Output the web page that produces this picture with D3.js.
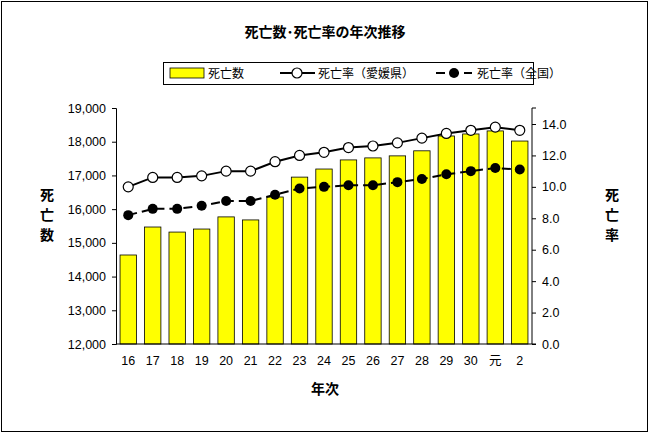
<!DOCTYPE html>
<html><head><meta charset="utf-8">
<script src="https://cdn.jsdelivr.net/npm/d3@7"></script>
<style>body{margin:0;background:#fff}svg{font-family:"Noto Sans CJK JP",sans-serif}</style>
</head><body>
<div id="chart"></div>
<script>
const years = ["16","17","18","19","20","21","22","23","24","25","26","27","28","29","30","元","2"];
const deaths = [14640,15470,15320,15410,15770,15680,16360,16950,17190,17460,17520,17580,17730,18170,18230,18320,18020];
const rateEhime = [10.0,10.6,10.6,10.7,11.0,11.0,11.6,12.0,12.2,12.5,12.6,12.8,13.1,13.4,13.6,13.8,13.6];
const rateJapan = [8.2,8.6,8.6,8.8,9.1,9.1,9.5,9.9,10.0,10.1,10.1,10.3,10.5,10.8,11.0,11.2,11.1];
const leftTicks = d3.range(12000, 19001, 1000);
const rightTicks = d3.range(0, 14.01, 2);

const width = 650, height = 434;
const m = {left: 116, right: 532, top: 108, bottom: 344};
const svg = d3.select("#chart").append("svg").attr("width", width).attr("height", height);

svg.append("rect").attr("x", 1.5).attr("y", 1.5).attr("width", 646).attr("height", 430)
    .attr("fill", "#fff").attr("stroke", "#000");

const x = d3.scaleBand().domain(years).range([m.left, m.right]).paddingInner(0.33).paddingOuter(0.165);
const y = d3.scaleLinear().domain([12000, 19000]).range([m.bottom, m.top]);
const y2 = d3.scaleLinear().domain([0, 14]).range([m.bottom, m.top + 16]);

svg.append("text").attr("x", 325).attr("y", 37).attr("text-anchor", "middle")
    .attr("font-size", 14).attr("font-weight", "bold").text("死亡数･死亡率の年次推移");

// bars
svg.append("g").selectAll("rect").data(deaths).join("rect")
    .attr("x", (d, i) => x(years[i])).attr("width", x.bandwidth())
    .attr("y", d => y(d)).attr("height", d => m.bottom - y(d))
    .attr("fill", "#ffff00").attr("stroke", "#000").attr("stroke-width", 0.8);

// axes
const fmt = d3.format(",");
svg.append("g").attr("transform", `translate(${m.left},0)`)
    .call(d3.axisLeft(y).tickValues(leftTicks).tickFormat(fmt).tickSize(4).tickPadding(6))
    .call(g => g.selectAll("text").attr("font-size", 12.5).attr("font-family", "Liberation Sans, Arial"));
svg.append("g").attr("transform", `translate(${m.right},0)`)
    .call(d3.axisRight(y2).tickValues(rightTicks).tickFormat(d3.format(".1f")).tickSize(4).tickPadding(6))
    .call(g => g.select(".domain").attr("d", `M4,${m.top}H0V${m.bottom}H4`))
    .call(g => g.selectAll("text").attr("font-size", 12.5).attr("font-family", "Liberation Sans, Arial"));
svg.append("g").attr("transform", `translate(0,${m.bottom})`)
    .call(d3.axisBottom(x).tickSize(0).tickPadding(12))
    .call(g => g.select(".domain").attr("d", `M${m.left},0H${m.right}`))
    .call(g => g.selectAll("text").attr("font-size", 12.5).attr("font-family", "Liberation Sans, Arial, Noto Sans CJK JP"));

// lines
const cx = d => x(d) + x.bandwidth() / 2;
const lineE = d3.line().x((d, i) => cx(years[i])).y(d => y2(d));
svg.append("path").datum(rateEhime).attr("d", lineE).attr("fill", "none").attr("stroke", "#000").attr("stroke-width", 2);
svg.append("g").selectAll("circle").data(rateEhime).join("circle")
    .attr("cx", (d, i) => cx(years[i])).attr("cy", d => y2(d)).attr("r", 5)
    .attr("fill", "#fff").attr("stroke", "#000").attr("stroke-width", 1.2);
svg.append("path").datum(rateJapan).attr("d", lineE).attr("fill", "none").attr("stroke", "#000")
    .attr("stroke-width", 2).attr("stroke-dasharray", "9,5");
svg.append("g").selectAll("circle").data(rateJapan).join("circle")
    .attr("cx", (d, i) => cx(years[i])).attr("cy", d => y2(d)).attr("r", 5).attr("fill", "#000");

// axis titles
const vtext = (xp, y0, s) => svg.append("text").attr("x", xp).attr("y", y0).attr("text-anchor", "middle")
    .attr("font-size", 14).attr("font-weight", "bold").selectAll("tspan").data([...s]).join("tspan")
    .attr("x", xp).attr("dy", (d, i) => i ? 20 : 0).text(d => d);
vtext(47, 200, "死亡数");
vtext(612, 200, "死亡率");
svg.append("text").attr("x", 325).attr("y", 394).attr("text-anchor", "middle").attr("font-size", 14)
    .attr("font-weight", "bold").text("年次");

// legend
const lg = svg.append("g");
lg.append("rect").attr("x", 163.5).attr("y", 62.5).attr("width", 370).attr("height", 22).attr("fill", "#fff").attr("stroke", "#000");
lg.append("rect").attr("x", 170).attr("y", 68).attr("width", 34).attr("height", 10).attr("fill", "#ffff00").attr("stroke", "#000").attr("stroke-width", 0.8);
lg.append("text").attr("x", 208).attr("y", 78).attr("font-size", 12).text("死亡数");
lg.append("line").attr("x1", 280).attr("x2", 315).attr("y1", 73).attr("y2", 73).attr("stroke", "#000").attr("stroke-width", 2);
lg.append("circle").attr("cx", 297).attr("cy", 73).attr("r", 5).attr("fill", "#fff").attr("stroke", "#000").attr("stroke-width", 1.2);
lg.append("text").attr("x", 318).attr("y", 78).attr("font-size", 12).text("死亡率（愛媛県）");
lg.append("line").attr("x1", 436).attr("x2", 472).attr("y1", 73).attr("y2", 73).attr("stroke", "#000").attr("stroke-width", 2).attr("stroke-dasharray", "9,5");
lg.append("circle").attr("cx", 454).attr("cy", 73).attr("r", 5).attr("fill", "#000");
lg.append("text").attr("x", 477).attr("y", 78).attr("font-size", 12).text("死亡率（全国）");
</script>
</body></html>
